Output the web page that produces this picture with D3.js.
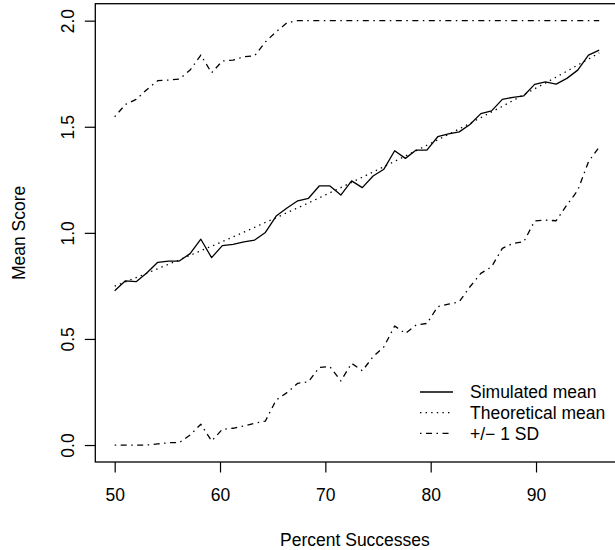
<!DOCTYPE html>
<html>
<head>
<meta charset="utf-8">
<script src="https://cdn.jsdelivr.net/npm/d3@7"></script>
<style>
  html, body { margin: 0; padding: 0; background: #fff; }
  svg { display: block; }
  text { font-family: "Liberation Sans", Arial, Helvetica, sans-serif; fill: #000; }
</style>
</head>
<body>
<svg id="chart" width="615" height="550"></svg>
<script>
// ---- data ----
const percentSuccess = [50, 51.02, 52.04, 53.07, 54.09, 55.11, 56.13, 57.16, 58.18, 59.2,
  60.22, 61.24, 62.27, 63.29, 64.31, 65.33, 66.36, 67.38, 68.4, 69.42,
  70.44, 71.47, 72.49, 73.51, 74.53, 75.56, 76.58, 77.6, 78.62, 79.64,
  80.67, 81.69, 82.71, 83.73, 84.76, 85.78, 86.8, 87.82, 88.84, 89.87,
  90.89, 91.91, 92.93, 93.96, 94.98, 96];
const simulatedMean = [0.727, 0.774, 0.770, 0.812, 0.861, 0.867, 0.867, 0.902, 0.970, 0.883,
  0.940, 0.946, 0.957, 0.966, 1.002, 1.079, 1.117, 1.151, 1.163, 1.221,
  1.221, 1.178, 1.245, 1.213, 1.268, 1.300, 1.387, 1.351, 1.390, 1.390,
  1.453, 1.466, 1.476, 1.511, 1.562, 1.575, 1.629, 1.639, 1.646, 1.700,
  1.712, 1.701, 1.728, 1.767, 1.838, 1.861];
const theoreticalMean = [0.749, 0.769, 0.789, 0.810, 0.831, 0.852, 0.873, 0.894, 0.916, 0.937,
  0.959, 0.981, 1.003, 1.026, 1.049, 1.071, 1.095, 1.118, 1.141, 1.165,
  1.189, 1.213, 1.238, 1.262, 1.287, 1.312, 1.337, 1.362, 1.387, 1.413,
  1.438, 1.464, 1.490, 1.516, 1.543, 1.570, 1.596, 1.624, 1.651, 1.679,
  1.706, 1.734, 1.762, 1.791, 1.819, 1.848];
const upperSD = [1.547, 1.605, 1.629, 1.676, 1.717, 1.720, 1.725, 1.767, 1.838, 1.754,
  1.810, 1.814, 1.830, 1.835, 1.900, 1.948, 1.990, 2.0, 2.0, 2.0,
  2.0, 2.0, 2.0, 2.0, 2.0, 2.0, 2.0, 2.0, 2.0, 2.0,
  2.0, 2.0, 2.0, 2.0, 2.0, 2.0, 2.0, 2.0, 2.0, 2.0,
  2.0, 2.0, 2.0, 2.0, 2.0, 2.0];
const lowerSD = [0, 0, 0, 0, 0.005, 0.011, 0.011, 0.047, 0.098, 0.019,
  0.074, 0.079, 0.090, 0.102, 0.113, 0.212, 0.247, 0.291, 0.298, 0.366,
  0.369, 0.302, 0.385, 0.350, 0.416, 0.463, 0.561, 0.526, 0.566, 0.573,
  0.652, 0.664, 0.675, 0.746, 0.809, 0.840, 0.927, 0.950, 0.958, 1.056,
  1.060, 1.057, 1.131, 1.200, 1.335, 1.405];
const xTicks = [50, 60, 70, 80, 90];
const yTicks = [0.0, 0.5, 1.0, 1.5, 2.0];
const legendLabels = ["Simulated mean", "Theoretical mean", "+/\u2212 1 SD"];
const xTitle = "Percent Successes";
const yTitle = "Mean Score";

// ---- layout ----
const svg = d3.select("#chart");
const plotL = 95.3, plotR = 618.6, plotT = 3.7, plotB = 462;
const fontSize = 17.5;

// R-style 4% padded ranges
const xMin = d3.min(percentSuccess), xMax = d3.max(percentSuccess);
const xPad = (xMax - xMin) * 0.04;
const x = d3.scaleLinear().domain([xMin - xPad, xMax + xPad]).range([plotL, plotR]);
const y = d3.scaleLinear().domain([-0.08, 2.08]).range([plotB, plotT]);

const styles = {
  solid: null,
  dotted: "1.4,4.2",
  dotdash: "1.5,4.5,6,4.5"
};

// plot box
svg.append("rect")
  .attr("x", plotL).attr("y", plotT)
  .attr("width", plotR - plotL).attr("height", plotB - plotT)
  .attr("fill", "none").attr("stroke", "#000").attr("stroke-width", 1.3);

// axes
const xAxis = d3.axisBottom(x).tickValues(xTicks).tickSize(10.5).tickFormat(d3.format("d"));
const gx = svg.append("g").attr("transform", `translate(0,${plotB})`).call(xAxis);
gx.select(".domain").remove();
gx.selectAll(".tick line").attr("stroke", "#000").attr("stroke-width", 1.2);
gx.selectAll(".tick text")
  .attr("dy", null).attr("y", 501 - plotB)
  .style("font-size", fontSize + "px")
  .style("font-family", '"Liberation Sans", Arial, sans-serif');

const yAxis = d3.axisLeft(y).tickValues(yTicks).tickSize(10.5).tickFormat(d3.format(".1f"));
const gy = svg.append("g").attr("transform", `translate(${plotL},0)`).call(yAxis);
gy.select(".domain").remove();
gy.selectAll(".tick line").attr("stroke", "#000").attr("stroke-width", 1.2);
gy.selectAll(".tick text")
  .attr("x", null).attr("dy", null)
  .attr("text-anchor", "middle")
  .attr("transform", `translate(${74 - plotL},0) rotate(-90)`)
  .style("font-size", fontSize + "px")
  .style("font-family", '"Liberation Sans", Arial, sans-serif');

// axis titles
svg.append("text")
  .attr("x", (plotL + plotR) / 2 - 2).attr("y", 545.5)
  .attr("text-anchor", "middle")
  .style("font-size", fontSize + "px")
  .text(xTitle);
svg.append("text")
  .attr("transform", `translate(25,${(plotT + plotB) / 2}) rotate(-90)`)
  .attr("text-anchor", "middle")
  .style("font-size", fontSize + "px")
  .text(yTitle);

// lines
const series = [
  { values: simulatedMean, dash: styles.solid },
  { values: theoreticalMean, dash: styles.dotted },
  { values: upperSD, dash: styles.dotdash },
  { values: lowerSD, dash: styles.dotdash }
];
const lineGen = d3.line().x(d => x(d[0])).y(d => y(d[1]));
series.forEach(s => {
  svg.append("path")
    .datum(percentSuccess.map((p, i) => [p, s.values[i]]))
    .attr("d", lineGen)
    .attr("fill", "none")
    .attr("stroke", "#000")
    .attr("stroke-width", 1.3)
    .attr("stroke-linejoin", "round")
    .attr("stroke-dasharray", s.dash);
});

// legend
const legendDash = [styles.solid, styles.dotted, styles.dotdash];
const leg = svg.append("g");
legendLabels.forEach((lab, i) => {
  const yy = 392 + i * 20.7;
  leg.append("line")
    .attr("x1", 420).attr("x2", 453).attr("y1", yy).attr("y2", yy)
    .attr("stroke", "#000").attr("stroke-width", 1.3)
    .attr("stroke-dasharray", legendDash[i]);
  leg.append("text")
    .attr("x", 470).attr("y", yy).attr("dy", "0.35em")
    .style("font-size", fontSize + "px")
    .text(lab);
});
</script>
</body>
</html>
